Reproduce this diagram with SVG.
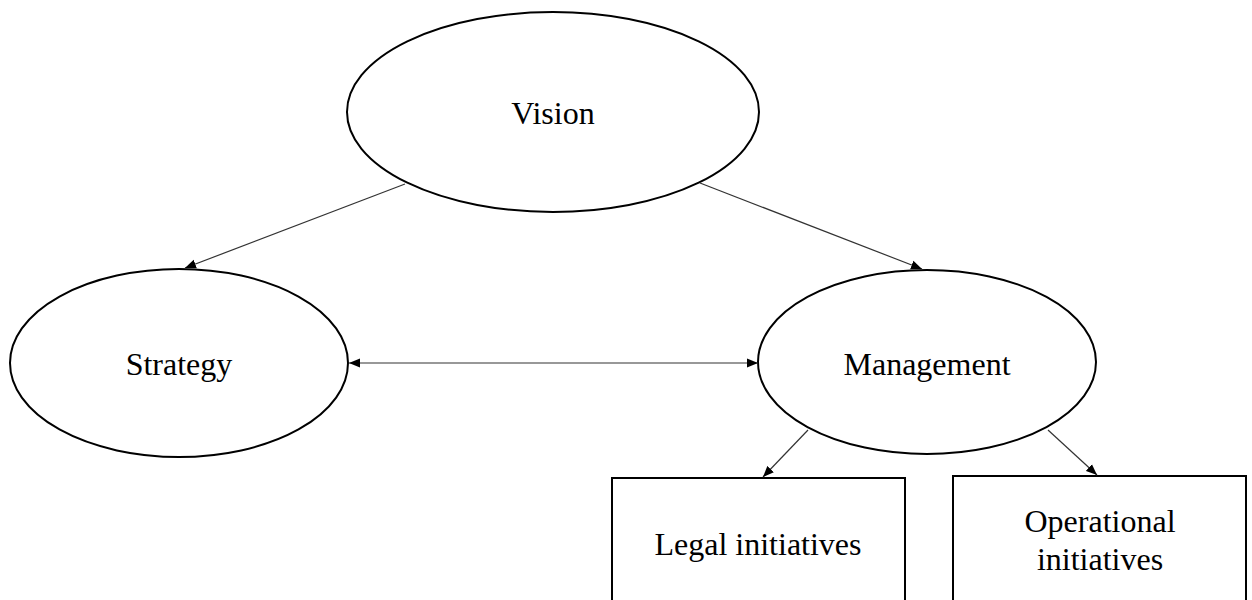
<svg xmlns="http://www.w3.org/2000/svg" width="1252" height="600" viewBox="0 0 1252 600">
  <style>
    .node { fill: #fff; stroke: #000; stroke-width: 2; }
    .lbl { font-family: "Liberation Serif", "Times New Roman", serif; font-size: 32px; fill: #000; text-anchor: middle; }
    .conn { stroke: #333; stroke-width: 1.2; fill: none; }
  </style>
  <defs>
    <marker id="arr" markerUnits="userSpaceOnUse" markerWidth="12" markerHeight="10" refX="11" refY="5" orient="auto-start-reverse">
      <path d="M0,0.5 L11,5 L0,9.5 Z" fill="#000"/>
    </marker>
  </defs>
  <rect width="1252" height="600" fill="#fff"/>
  <g id="vision">
    <ellipse class="node" cx="553" cy="112" rx="206" ry="100"/>
    <text class="lbl" x="553" y="124">Vision</text>
  </g>
  <g id="strategy">
    <ellipse class="node" cx="179" cy="363" rx="169" ry="94"/>
    <text class="lbl" x="179" y="375">Strategy</text>
  </g>
  <g id="management">
    <ellipse class="node" cx="927" cy="362" rx="169" ry="92"/>
    <text class="lbl" x="927" y="375">Management</text>
  </g>
  <g id="legal">
    <rect class="node" x="612" y="478" width="293" height="140"/>
    <text class="lbl" x="758" y="555">Legal initiatives</text>
  </g>
  <g id="operational">
    <rect class="node" x="953" y="476" width="293" height="140"/>
    <text class="lbl" x="1100" y="532">Operational</text>
    <text class="lbl" x="1100" y="570">initiatives</text>
  </g>
  <g id="connectors">
    <line class="conn" x1="405" y1="184" x2="185" y2="268" marker-end="url(#arr)"/>
    <line class="conn" x1="700" y1="183" x2="922" y2="269" marker-end="url(#arr)"/>
    <line class="conn" x1="349" y1="363" x2="758" y2="363" marker-start="url(#arr)" marker-end="url(#arr)"/>
    <line class="conn" x1="808" y1="430" x2="763" y2="477" marker-end="url(#arr)"/>
    <line class="conn" x1="1048" y1="430" x2="1097" y2="475" marker-end="url(#arr)"/>
  </g>
</svg>
